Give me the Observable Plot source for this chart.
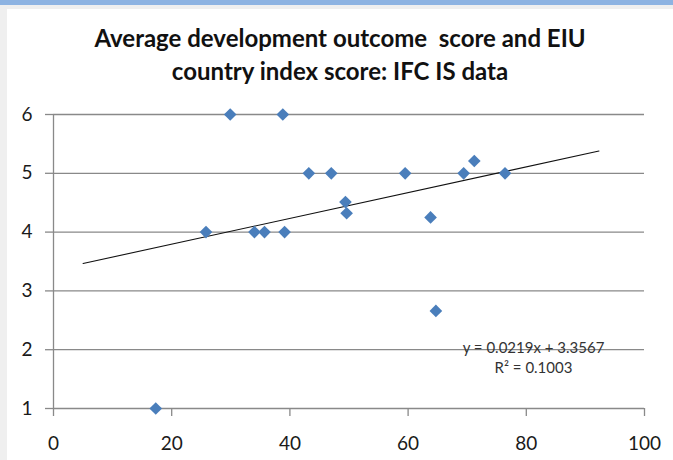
<!DOCTYPE html>
<html><head><meta charset="utf-8">
<script src="https://cdn.jsdelivr.net/npm/d3@7"></script>
<script src="https://cdn.jsdelivr.net/npm/@observablehq/plot@0.6"></script>
<style>
html,body{margin:0;padding:0;}
body{width:673px;height:460px;background:#efefef;position:relative;overflow:hidden;font-family:Lato,sans-serif;}
#bar{position:absolute;left:0;top:0;width:673px;height:5px;background:#8db3e2;}
#panel{position:absolute;left:7px;top:9px;width:666px;height:451px;background:#fff;}
#title{box-sizing:border-box;height:91px;padding-top:12px;text-align:center;font-weight:bold;font-size:24px;line-height:33px;color:#111;}
</style>
</head><body>
<div id="bar"></div>
<div id="panel"><div id="title">Average development outcome&nbsp; score and EIU<br>country index score: IFC IS data</div><div id="chart"></div></div>
<script>
const eiuScore = [17.3, 25.8, 29.9, 34.0, 35.7, 38.8, 39.1, 43.2, 47.0, 49.4, 49.6, 59.5, 63.8, 64.7, 69.4, 71.2, 76.4];
const devScore = [1, 4, 6, 4, 4, 6, 4, 5, 5, 4.51, 4.32, 5, 4.25, 2.66, 5, 5.21, 5];
const trendX = [5, 92.3];
const trendY = [3.466, 5.379];
const xTicks = [0, 20, 40, 60, 80, 100];
const yTicks = [1, 2, 3, 4, 5, 6];
const eqText = "y = 0.0219x + 3.3567";
const r2Text = "R² = 0.1003";

const points = eiuScore.map((x, i) => ({x, y: devScore[i]}));
const trend = trendX.map((x, i) => ({x, y: trendY[i]}));
const grey = "#898989";

const chart = Plot.plot({
  width: 666, height: 360,
  marginTop: 14, marginBottom: 52, marginLeft: 46, marginRight: 29,
  style: {fontFamily: "Lato, sans-serif", background: "white", overflow: "visible"},
  x: {domain: [0, 100]},
  y: {domain: [1, 6]},
  marks: [
    Plot.ruleY(yTicks, {stroke: grey, strokeWidth: 1.3}),
    Plot.ruleX([0], {y1: 1, y2: 6, stroke: grey, strokeWidth: 1.3}),
    Plot.axisY(yTicks, {tickSize: 8, tickPadding: 13, tickFormat: d => String(d), stroke: grey, fill: "#1a1a1a", fontSize: 19, label: null, strokeWidth: 1.3}),
    Plot.axisX(xTicks, {tickSize: 8, tickPadding: 20, tickFormat: d => String(d), stroke: grey, fill: "#1a1a1a", fontSize: 19, label: null, strokeWidth: 1.3}),
    Plot.line(trend, {x: "x", y: "y", stroke: "#111", strokeWidth: 1.1}),
    Plot.dot(points, {x: "x", y: "y", symbol: "diamond2", r: 5.7, fill: "#4a7ebb"}),
    Plot.text([eqText], {frameAnchor: "bottom-right", dx: -111, dy: -56, textAnchor: "middle", fontSize: 15, fill: "#333"}),
    Plot.text([r2Text], {frameAnchor: "bottom-right", dx: -111, dy: -36, textAnchor: "middle", fontSize: 15, fill: "#333"})
  ]
});
document.getElementById("chart").appendChild(chart);
</script>
</body></html>
